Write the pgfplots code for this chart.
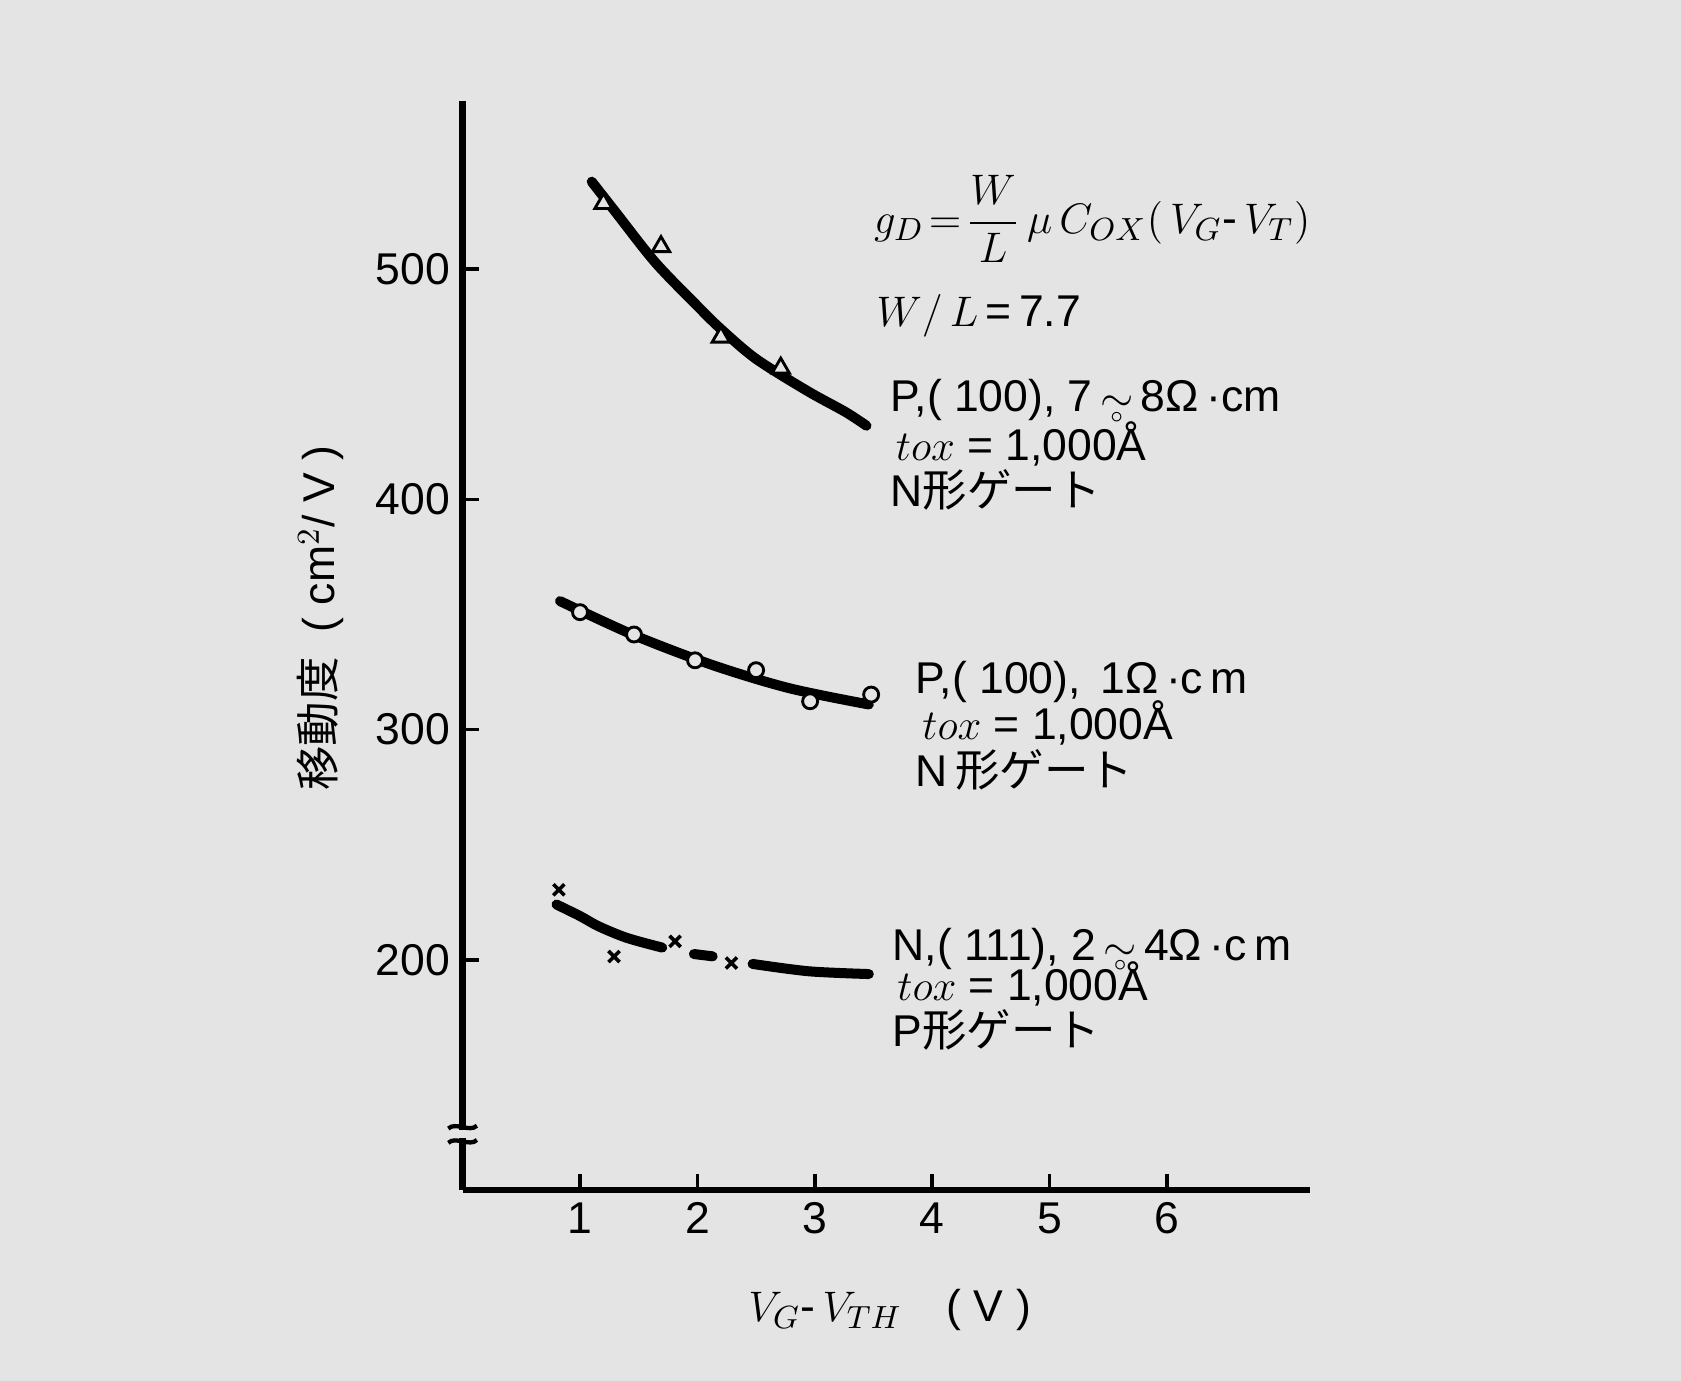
\documentclass[border=0pt]{standalone}
\usepackage{fontspec}
\usepackage{amsmath}
\setmainfont{Liberation Sans}
\newfontfamily\jp{Noto Sans CJK JP}
\usepackage{pgfplots}
\pgfplotsset{compat=1.18}
\usetikzlibrary{calc}
\definecolor{bg}{RGB}{228,228,228}
\tikzset{lbl/.style={anchor=base west, inner sep=0, font=\fontsize{12.5}{14}\selectfont}}
\newcommand{\tl}{\smash{\ooalign{$\sim$\cr\hidewidth\raisebox{-0.24em}{$\scriptscriptstyle\circ$}\hidewidth\cr}}}
\begin{document}
\begin{tikzpicture}
\fill[bg] (0,0) rectangle (470.4bp,386.4bp);
\begin{axis}[
  at={(129.45bp,53.4bp)}, anchor=south west,
  scale only axis, width=237.2bp, height=304.7bp,
  xmin=0, xmax=7.22, ymin=100, ymax=573,
  axis x line=bottom, axis y line=left,
  axis line style={line width=1.8bp, -},
  xtick={1,2,3,4,5,6}, ytick={200,300,400,500},
  tick align=inside, major tick length=4.5bp,
  tick style={line width=1bp, black},
  ticklabel style={font=\fontsize{12.5}{14}\selectfont},
  /pgf/number format/assume math mode=true,
  /pgf/number format/1000 sep={},
  clip=false,
  xlabel={$V_{G}\text{-}\,V_{TH}$\quad( V )},
  every axis x label/.style={at={(axis description cs:0.504,-0.110)}, anchor=center, font=\fontsize{12.5}{14}\selectfont},
  ylabel={{\jp 移動度}\ \ ( cm$^{2}$/ V )},
  every axis y label/.style={at={(axis description cs:-0.168,0.525)}, anchor=center, rotate=90, font=\fontsize{12.5}{14}\selectfont},
]
% triangles series curve
\addplot[line width=2.8bp, line cap=round, smooth, tension=0.5] coordinates {
(1.10,538) (1.30,525) (1.64,503) (2.00,484) (2.20,474) (2.50,461) (2.94,447) (3.26,438) (3.44,432)};
\addplot[only marks, mark=triangle*, mark size=2.8bp, mark options={line width=0.8bp, draw=black, fill=bg}] coordinates {
(1.20,528.5) (1.69,509.8) (2.20,470.5) (2.71,457)};
% circles series
\addplot[line width=2.8bp, line cap=round, smooth, tension=0.5] coordinates {
(0.83,355.8) (1.46,341) (2.13,328) (2.78,318) (3.46,310.9)};
\addplot[only marks, mark=*, mark size=2.1bp, mark options={line width=0.8bp, draw=black, fill=bg}] coordinates {
(1.00,351) (1.46,341.3) (1.98,330.1) (2.50,325.8) (2.96,312.3) (3.48,315.2)};
% crosses series (broken curve)
\addplot[line width=2.8bp, line cap=round, smooth, tension=0.5] coordinates {
(0.80,224) (1.00,219) (1.16,214.5) (1.40,209.5) (1.70,205.3)};
\addplot[line width=2.8bp, line cap=round] coordinates {(1.97,202.5) (2.13,201.5)};
\addplot[line width=2.8bp, line cap=round, smooth, tension=0.5] coordinates {
(2.47,198.2) (2.95,195) (3.46,193.8)};
\addplot[only marks, mark=x, mark size=2.2bp, mark options={line width=1bp, draw=black}] coordinates {
(0.82,230.4) (1.29,201.4) (1.81,208) (2.29,198.6)};
% axis break
\coordinate (B) at (axis cs:0,124.2);
\fill[bg] ($(B)+(-2bp,-1.1bp)$) rectangle ($(B)+(2bp,1.1bp)$);
\draw[line width=1.2bp] ($(B)+(-4bp,1.6bp)$) .. controls ($(B)+(-2bp,3.6bp)$) and ($(B)+(2bp,0.4bp)$) .. ($(B)+(4bp,2.4bp)$);
\draw[line width=1.2bp] ($(B)+(-4bp,-2.4bp)$) .. controls ($(B)+(-2bp,-0.4bp)$) and ($(B)+(2bp,-3.6bp)$) .. ($(B)+(4bp,-1.6bp)$);
% annotations
\node[anchor=west, inner sep=0, font=\fontsize{12.5}{14}\selectfont] at (axis cs:3.50,521.8)
  {$g_{D}\!=\!\dfrac{W}{L}\,\mu\, C_{OX}(\,V_{G}\text{-}\,V_{T})$};
\node[lbl] at (axis cs:3.52,475.1) {$W/\,L$\,=\,7.7};
\node[lbl] at (axis cs:3.64,438.1) {P,( 100), 7\,\tl\,8Ω\,·cm};
\node[lbl] at (axis cs:3.685,417.0) {$tox$ = 1,000Å};
\node[lbl] at (axis cs:3.64,396.8) {N{\jp 形ゲート}};
\node[lbl] at (axis cs:3.855,315.7) {P,( 100), \,1Ω\,·c\,m};
\node[lbl] at (axis cs:3.911,295.5) {$tox$ = 1,000Å};
\node[lbl] at (axis cs:3.855,275.2) {N\,{\jp 形ゲート}};
\node[lbl] at (axis cs:3.656,199.9) {N,( 111), 2\,\tl\,4Ω\,·c\,m};
\node[lbl] at (axis cs:3.698,182.5) {$tox$ = 1,000Å};
\node[lbl] at (axis cs:3.656,162.2) {P{\jp 形ゲート}};
\end{axis}
\end{tikzpicture}
\end{document}
